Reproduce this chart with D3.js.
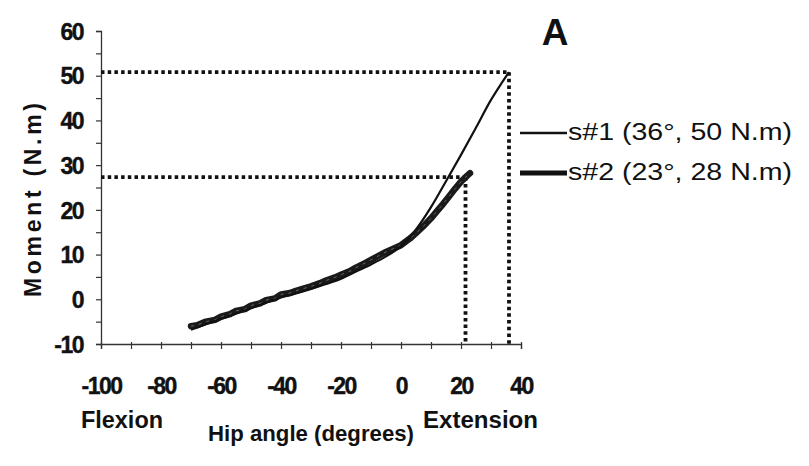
<!DOCTYPE html>
<html>
<head>
<meta charset="utf-8">
<script src="https://cdn.jsdelivr.net/npm/d3@7"></script>
<style>
  body { margin: 0; background: #fff; }
  svg text { font-family: "Liberation Sans", Arial, sans-serif; fill: #111; }
  .tick text { font-weight: bold; font-size: 23px; }
</style>
</head>
<body>
<svg id="chart" width="809" height="466"></svg>
<script>
// hip angle (deg) vs moment (N.m)
var angle1 = [-70, -65, -60, -55, -50, -45, -40, -35, -30, -25, -20, -15, -10, -5, 0, 5, 10, 15, 20, 25, 30, 33, 36];
var moment1 = [-6.8, -5.6, -4.4, -3.2, -2.0, -0.8, 0.4, 1.3, 2.3, 3.4, 4.6, 6.2, 7.8, 9.6, 11.9, 15.6, 20.6, 26.4, 32.3, 38.4, 44.6, 47.8, 50.8];

var angle2 = [-70, -68, -65, -62, -60, -57, -55, -52, -50, -47, -45, -42, -40, -37, -35, -32, -30, -27, -25, -22, -20, -17, -15, -12, -10, -7, -5, -2, 0, 3, 5, 8, 10, 12, 14, 16, 18, 20, 22, 23];
var moment2 = [-6.0, -5.8, -5.0, -4.6, -3.9, -3.3, -2.6, -2.2, -1.4, -0.9, -0.2, 0.2, 1.1, 1.4, 1.9, 2.5, 2.9, 3.6, 4.2, 4.9, 5.5, 6.3, 7.1, 8.1, 8.8, 9.9, 10.6, 11.5, 12.1, 13.6, 14.8, 16.7, 18.1, 19.7, 21.3, 23.0, 24.7, 26.3, 27.6, 28.2];

var legendLabels = ["s#1 (36\u00b0, 50 N.m)", "s#2 (23\u00b0, 28 N.m)"];
// peak markers (dotted guides): [angle, moment]
var peaks = [[36, 50.8], [21.5, 27.3]];

var xTicks = [-100, -90, -80, -70, -60, -50, -40, -30, -20, -10, 0, 10, 20, 30, 40];
var yTicks = [-10, -5, 0, 5, 10, 15, 20, 25, 30, 35, 40, 45, 50, 55, 60];

var svg = d3.select("#chart");

var x = d3.scaleLinear().domain([-100, 40]).range([101, 521]);
var y = d3.scaleLinear().domain([-10, 60]).range([344, 31]);

// axes
var yAxis = d3.axisLeft(y)
  .tickValues(yTicks)
  .tickSize(5)
  .tickPadding(13)
  .tickFormat(function(d) { return d % 10 === 0 ? d : ""; });

var xAxis = d3.axisBottom(x)
  .tickValues(xTicks)
  .tickSize(5)
  .tickPadding(29)
  .tickFormat(function(d) { return d % 20 === 0 ? d : ""; });

var gy = svg.append("g").attr("transform", "translate(" + x(-100) + ",0)").call(yAxis);
var gx = svg.append("g").attr("transform", "translate(0," + y(-10) + ")").call(xAxis);

[gx, gy].forEach(function(g) {
  g.select(".domain").attr("stroke", "#333").attr("stroke-width", 1.3);
  g.selectAll(".tick line").attr("stroke", "#333").attr("stroke-width", 1.2);
  g.selectAll(".tick text").attr("fill", "#111").attr("letter-spacing", "-1.5px")
    .attr("stroke", "#111").attr("stroke-width", 0.4);
});
gx.selectAll(".tick line").attr("y1", -2);
gy.selectAll(".tick text").attr("dy", "0.36em");

// dotted guides to the peak of each trial
var dots = svg.append("g")
  .attr("fill", "none")
  .attr("stroke", "#111")
  .attr("stroke-width", 3.8)
  .attr("stroke-dasharray", "3.5,3.2");

peaks.forEach(function(p) {
  dots.append("line")
    .attr("x1", x(-100)).attr("x2", x(p[0]))
    .attr("y1", y(p[1])).attr("y2", y(p[1]));
  dots.append("line")
    .attr("x1", x(p[0])).attr("x2", x(p[0]))
    .attr("y1", y(p[1])).attr("y2", y(-10));
});

var line = d3.line()
  .x(function(d) { return x(d[0]); })
  .y(function(d) { return y(d[1]); })
  .curve(d3.curveLinear);

var s1 = d3.zip(angle1, moment1),
    s2 = d3.zip(angle2, moment2);

// s#2: thick ragged trace
svg.append("path")
  .datum(s2)
  .attr("fill", "none")
  .attr("stroke", "#1a1a1a")
  .attr("stroke-width", 6.5)
  .attr("stroke-linejoin", "round")
  .attr("stroke-linecap", "round")
  .attr("d", line);

svg.append("path")
  .datum(s2)
  .attr("fill", "none")
  .attr("stroke", "#666")
  .attr("stroke-width", 1)
  .attr("stroke-dasharray", "3,5")
  .attr("d", line);

// s#1: thin line
svg.append("path")
  .datum(s1)
  .attr("fill", "none")
  .attr("stroke", "#111")
  .attr("stroke-width", 2.2)
  .attr("stroke-linejoin", "round")
  .attr("d", line.curve(d3.curveMonotoneX));

// legend
var legend = svg.append("g");
legendLabels.forEach(function(t, i) {
  var ly = 133 + i * 40;
  legend.append("line")
    .attr("x1", 520).attr("x2", 567)
    .attr("y1", ly).attr("y2", ly)
    .attr("stroke", "#111")
    .attr("stroke-width", i === 0 ? 2.5 : 5);
  legend.append("text")
    .attr("x", 568).attr("y", ly + 7)
    .attr("font-size", "23px")
    .attr("textLength", 224)
    .attr("lengthAdjust", "spacingAndGlyphs")
    .text(t);
});

// titles
svg.append("text")
  .attr("transform", "translate(41,200) rotate(-90)")
  .attr("text-anchor", "middle")
  .attr("font-size", "23px")
  .attr("font-weight", "bold")
  .attr("textLength", 194)
  .attr("lengthAdjust", "spacing")
  .text("Moment (N.m)");

svg.append("text")
  .attr("x", 311).attr("y", 441)
  .attr("text-anchor", "middle")
  .attr("font-size", "22px")
  .attr("font-weight", "bold")
  .attr("textLength", 206)
  .attr("lengthAdjust", "spacingAndGlyphs")
  .text("Hip angle (degrees)");

svg.append("text")
  .attr("x", 81).attr("y", 428)
  .attr("font-size", "23px")
  .attr("font-weight", "bold")
  .attr("textLength", 82)
  .attr("lengthAdjust", "spacingAndGlyphs")
  .text("Flexion");

svg.append("text")
  .attr("x", 423).attr("y", 428)
  .attr("font-size", "23px")
  .attr("font-weight", "bold")
  .attr("textLength", 115)
  .attr("lengthAdjust", "spacingAndGlyphs")
  .text("Extension");

svg.append("text")
  .attr("x", 555).attr("y", 45)
  .attr("text-anchor", "middle")
  .attr("font-size", "37px")
  .attr("font-weight", "bold")
  .text("A");
</script>
</body>
</html>
